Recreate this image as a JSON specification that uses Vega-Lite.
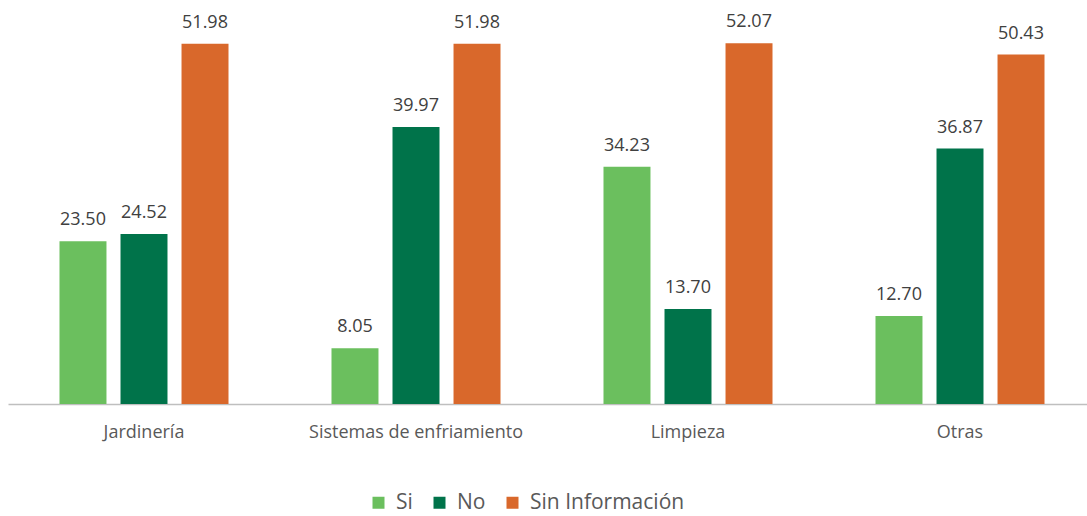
{
  "$schema": "https://vega.github.io/schema/vega-lite/v6.json",
  "autosize": {"type": "none"},
  "padding": {"left": 8, "top": 0, "right": 0, "bottom": 112},
  "width": 1088,
  "height": 404,
  "background": "white",
  "config": {"view": {"stroke": null}, "font": "Open Sans"},
  "data": {
    "values": [
      {"cat": "Jardinería", "serie": "Si", "valor": 23.50},
      {"cat": "Jardinería", "serie": "No", "valor": 24.52},
      {"cat": "Jardinería", "serie": "Sin Información", "valor": 51.98},
      {"cat": "Sistemas de enfriamiento", "serie": "Si", "valor": 8.05},
      {"cat": "Sistemas de enfriamiento", "serie": "No", "valor": 39.97},
      {"cat": "Sistemas de enfriamiento", "serie": "Sin Información", "valor": 51.98},
      {"cat": "Limpieza", "serie": "Si", "valor": 34.23},
      {"cat": "Limpieza", "serie": "No", "valor": 13.70},
      {"cat": "Limpieza", "serie": "Sin Información", "valor": 52.07},
      {"cat": "Otras", "serie": "Si", "valor": 12.70},
      {"cat": "Otras", "serie": "No", "valor": 36.87},
      {"cat": "Otras", "serie": "Sin Información", "valor": 50.43}
    ]
  },
  "encoding": {
    "x": {
      "field": "cat", "type": "nominal", "sort": null,
      "scale": {"paddingInner": 0, "paddingOuter": 0},
      "axis": {"title": null, "labelAngle": 0, "labelFontSize": 18, "labelLimit": 0, "labelColor": "#595959", "labelPadding": 19, "ticks": false, "domainColor": "#BFBFBF", "domainWidth": 1.5, "grid": false}
    },
    "xOffset": {
      "field": "serie", "type": "nominal",
      "sort": ["Si", "No", "Sin Información"],
      "scale": {"paddingInner": 0.23, "paddingOuter": 0.844}
    },
    "y": {
      "field": "valor", "type": "quantitative",
      "scale": {"domain": [0, 58.3], "nice": false, "zero": true},
      "axis": null
    }
  },
  "layer": [
    {
      "mark": {"type": "bar"},
      "encoding": {
        "color": {
          "field": "serie", "type": "nominal",
          "sort": ["Si", "No", "Sin Información"],
          "scale": {"domain": ["Si", "No", "Sin Información"], "range": ["#6BBF5E", "#00734A", "#D9682B"]},
          "legend": {
            "title": null, "orient": "none", "direction": "horizontal",
            "legendX": 360, "legendY": 492,
            "symbolType": "square", "symbolSize": 144, "symbolStrokeWidth": 0,
            "labelFontSize": 21, "labelColor": "#595959", "columnPadding": 16, "labelOffset": 7
          }
        }
      }
    },
    {
      "mark": {"type": "text", "baseline": "bottom", "dy": -12, "fontSize": 18, "color": "#404040"},
      "encoding": {
        "text": {"field": "valor", "type": "quantitative", "format": ".2f"}
      }
    }
  ]
}
